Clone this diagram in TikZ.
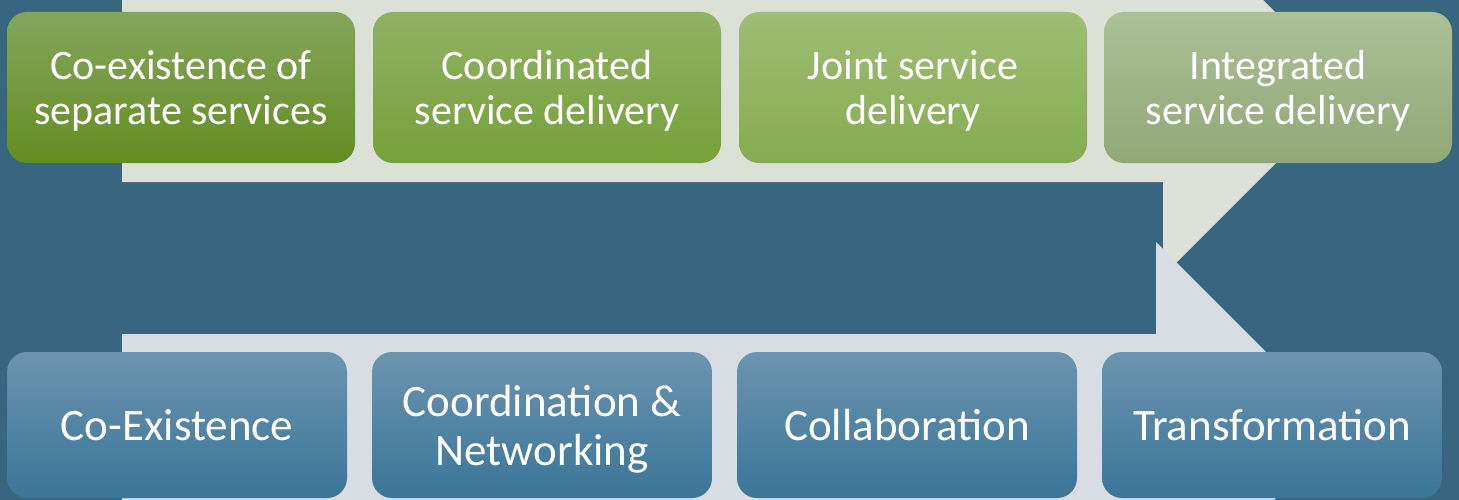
\documentclass[tikz,border=0pt]{standalone}
\usepackage{fontspec}
\setmainfont{Carlito}
\definecolor{backblue}{HTML}{386580}
\definecolor{arrowgreen}{HTML}{DCE1D8}
\definecolor{arrowgrey}{HTML}{D8DCE3}
\begin{document}
\begin{tikzpicture}[x=1pt,y=-1pt]

    \tikzset{
      stage/.style={
        rounded corners=20pt,
        minimum width=348pt,
        minimum height=151pt,
        inner sep=0pt,
        text depth=0pt,
        align=center,
        text=white,
        font=\fontsize{42}{45}\selectfont,
      },
      level/.style={
        stage,
        minimum width=340pt,
        minimum height=146pt,
        font=\fontsize{45}{49}\selectfont,
        top color={rgb,255:red,108;green,148;blue,175},
        middle color={rgb,255:red,68;green,131;blue,164},
        bottom color={rgb,255:red,58;green,117;blue,152},
      },
    }
    \clip (0,0) rectangle (1459,500);
    \fill [backblue] (0,0) rectangle (1459,500);
    % the two arrows
    \fill [arrowgreen] (122,-6)--(1163,-6)--(1163,-100)--(1351,88)--(1163,276)--(1163,182)--(122,182)--cycle;
    \fill [arrowgrey] (122,334)--(1156,334)--(1156,242)--(1344,430)--(1156,618)--(1156,526)--(122,526)--cycle;

    \node[stage, top color={rgb,255:red,131;green,166;blue,93}, bottom color={rgb,255:red,98;green,142;blue,32}] (separate) at (181,87.5) {Co-existence of\\separate services};
    \node[stage, top color={rgb,255:red,143;green,178;blue,100}, bottom color={rgb,255:red,117;green,162;blue,57}] (coordinated) at (547,87.5) {Coordinated\\service delivery};
    \node[stage, top color={rgb,255:red,157;green,190;blue,117}, bottom color={rgb,255:red,133;green,172;blue,79}] (joint) at (913,87.5) {Joint service\\delivery};
    \node[stage, top color={rgb,255:red,171;green,192;blue,149}, bottom color={rgb,255:red,146;green,168;blue,119}] (integrated) at (1278,87.5) {Integrated\\service delivery};

    \node[level] (coexist) at (177,425) {Co-Existence};
    \node[level] (networking) at (542,425) {Coordination \&\\Networking};
    \node[level] (collab) at (907,425) {Collaboration};
    \node[level] (transform) at (1272,425) {Transformation};

\end{tikzpicture}
\end{document}
